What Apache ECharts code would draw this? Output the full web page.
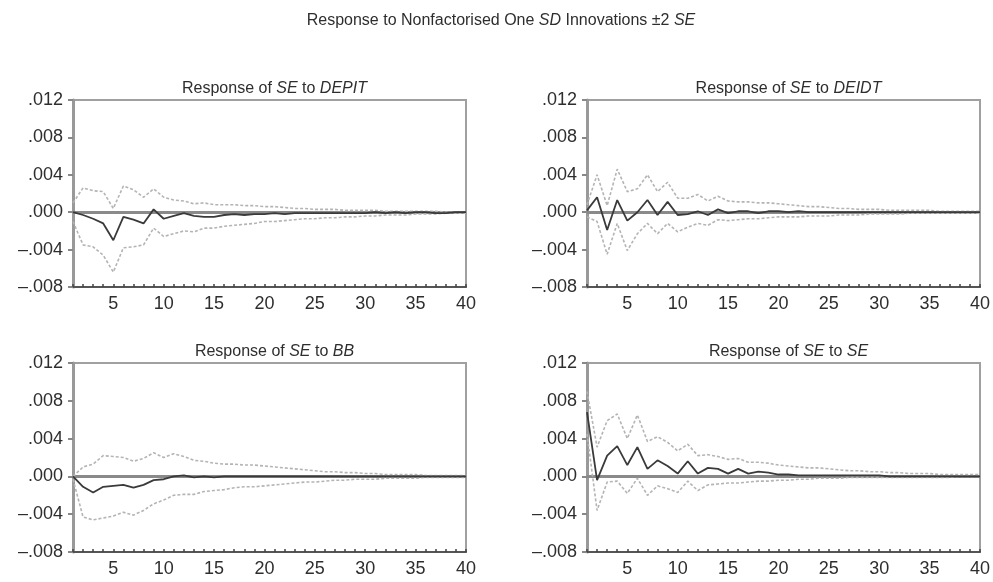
<!DOCTYPE html>
<html>
<head>
<meta charset="utf-8">
<script src="https://cdn.jsdelivr.net/npm/echarts@6/dist/echarts.min.js"></script>
<style>
  html, body { margin: 0; padding: 0; background: #fff; }
  #chart { width: 993px; height: 582px; }
</style>
</head>
<body>
<div id="chart"></div>
<script>
// Impulse-response horizon (periods 1..40)
const periods = Array.from({ length: 40 }, (_, i) => String(i + 1));

// Response of SE to DEPIT
const depitResp = [0.0000,-0.0003,-0.0007,-0.0012,-0.0030,-0.0005,-0.0008,-0.0012,0.0003,-0.0007,
  -0.0004,-0.0001,-0.0004,-0.0005,-0.0005,-0.0003,-0.0002,-0.0003,-0.0002,-0.0002,
  -0.0001,-0.0002,-0.0001,-0.0001,-0.0001,-0.0001,-0.0001,-0.0001,-0.0001,-0.0001,
  0.0000,-0.0001,0.0000,-0.0001,0.0000,0.0000,-0.0001,-0.0001,0.0000,0.0000];
const depitUpper = [0.0010,0.0026,0.0023,0.0022,0.0004,0.0028,0.0024,0.0016,0.0025,0.0016,
  0.0013,0.0012,0.0009,0.0010,0.0008,0.0008,0.0008,0.0007,0.0007,0.0006,
  0.0006,0.0005,0.0004,0.0004,0.0003,0.0003,0.0003,0.0002,0.0002,0.0002,
  0.0002,0.0001,0.0001,0.0001,0.0001,0.0001,0.0001,0.0000,0.0000,0.0000];
const depitLower = [-0.0010,-0.0035,-0.0037,-0.0046,-0.0064,-0.0038,-0.0037,-0.0035,-0.0017,-0.0026,
  -0.0023,-0.0020,-0.0021,-0.0017,-0.0017,-0.0015,-0.0014,-0.0013,-0.0012,-0.0010,
  -0.0010,-0.0009,-0.0008,-0.0007,-0.0007,-0.0006,-0.0006,-0.0005,-0.0005,-0.0004,
  -0.0004,-0.0003,-0.0003,-0.0003,-0.0002,-0.0002,-0.0002,-0.0001,-0.0001,-0.0001];

// Response of SE to DEIDT
const deidtResp = [0.0002,0.0016,-0.0019,0.0013,-0.0009,0.0000,0.0013,-0.0003,0.0011,-0.0003,
  -0.0002,0.0001,-0.0003,0.0003,-0.0001,0.0001,0.0001,-0.0001,0.0001,0.0001,
  0.0000,0.0001,0.0000,0.0000,0.0000,0.0000,0.0000,0.0000,0.0000,0.0000,
  0.0000,0.0000,0.0000,0.0000,0.0000,0.0000,0.0000,0.0000,0.0000,0.0000];
const deidtUpper = [0.0008,0.0040,0.0007,0.0046,0.0022,0.0025,0.0040,0.0022,0.0032,0.0015,
  0.0015,0.0019,0.0012,0.0017,0.0012,0.0011,0.0011,0.0010,0.0010,0.0009,
  0.0008,0.0007,0.0006,0.0006,0.0005,0.0004,0.0004,0.0003,0.0003,0.0003,
  0.0002,0.0002,0.0002,0.0002,0.0002,0.0001,0.0001,0.0001,0.0001,0.0001];
const deidtLower = [-0.0005,-0.0010,-0.0045,-0.0012,-0.0041,-0.0023,-0.0012,-0.0023,-0.0012,-0.0021,
  -0.0016,-0.0012,-0.0014,-0.0008,-0.0009,-0.0008,-0.0007,-0.0007,-0.0006,-0.0005,
  -0.0005,-0.0005,-0.0004,-0.0004,-0.0004,-0.0003,-0.0003,-0.0003,-0.0002,-0.0002,
  -0.0002,-0.0002,-0.0001,-0.0001,-0.0001,-0.0001,-0.0001,-0.0001,-0.0001,-0.0001];

// Response of SE to BB
const bbResp = [0.0000,-0.0011,-0.0017,-0.0011,-0.0010,-0.0009,-0.0012,-0.0009,-0.0004,-0.0003,
  0.0000,0.0001,-0.0001,0.0000,-0.0001,0.0000,0.0000,0.0000,0.0000,0.0000,
  0.0000,0.0000,0.0000,0.0000,0.0000,0.0000,0.0000,0.0000,0.0000,0.0000,
  0.0000,0.0000,0.0000,0.0000,0.0000,0.0000,0.0000,0.0000,0.0000,0.0000];
const bbUpper = [0.0000,0.0010,0.0013,0.0022,0.0021,0.0020,0.0016,0.0019,0.0025,0.0020,
  0.0024,0.0021,0.0017,0.0016,0.0014,0.0013,0.0013,0.0012,0.0012,0.0011,
  0.0010,0.0009,0.0008,0.0007,0.0006,0.0005,0.0005,0.0004,0.0004,0.0003,
  0.0003,0.0002,0.0002,0.0002,0.0002,0.0001,0.0001,0.0001,0.0001,0.0001];
const bbLower = [-0.0003,-0.0043,-0.0046,-0.0044,-0.0042,-0.0038,-0.0041,-0.0036,-0.0029,-0.0025,
  -0.0020,-0.0019,-0.0019,-0.0016,-0.0015,-0.0014,-0.0012,-0.0011,-0.0011,-0.0010,
  -0.0009,-0.0008,-0.0007,-0.0006,-0.0006,-0.0005,-0.0004,-0.0004,-0.0003,-0.0003,
  -0.0003,-0.0002,-0.0002,-0.0002,-0.0002,-0.0001,-0.0001,-0.0001,-0.0001,-0.0001];

// Response of SE to SE
const seResp = [0.0068,-0.0004,0.0022,0.0032,0.0012,0.0031,0.0008,0.0017,0.0011,0.0003,
  0.0016,0.0003,0.0009,0.0008,0.0003,0.0008,0.0003,0.0005,0.0004,0.0002,
  0.0002,0.0001,0.0001,0.0001,0.0001,0.0001,0.0001,0.0001,0.0001,0.0001,
  0.0000,0.0000,0.0000,0.0000,0.0000,0.0000,0.0000,0.0000,0.0000,0.0000];
const seUpper = [0.0090,0.0031,0.0059,0.0066,0.0040,0.0065,0.0037,0.0042,0.0036,0.0027,
  0.0034,0.0022,0.0023,0.0021,0.0018,0.0019,0.0015,0.0015,0.0014,0.0012,
  0.0011,0.0010,0.0009,0.0009,0.0008,0.0007,0.0006,0.0006,0.0005,0.0005,
  0.0004,0.0004,0.0003,0.0003,0.0003,0.0002,0.0002,0.0002,0.0002,0.0002];
const seLower = [0.0045,-0.0036,-0.0006,-0.0005,-0.0018,-0.0002,-0.0020,-0.0010,-0.0013,-0.0017,
  -0.0005,-0.0015,-0.0009,-0.0008,-0.0007,-0.0007,-0.0006,-0.0005,-0.0005,-0.0004,
  -0.0004,-0.0003,-0.0003,-0.0002,-0.0002,-0.0002,-0.0001,-0.0001,-0.0001,-0.0001,
  -0.0001,-0.0001,-0.0001,-0.0001,-0.0001,-0.0001,-0.0001,0.0000,0.0000,0.0000];

// Shock variable named in each panel heading
const panelShocks = ['DEPIT', 'DEIDT', 'BB', 'SE'];
const panels = [
  { resp: depitResp, upper: depitUpper, lower: depitLower },
  { resp: deidtResp, upper: deidtUpper, lower: deidtLower },
  { resp: bbResp, upper: bbUpper, lower: bbLower },
  { resp: seResp, upper: seUpper, lower: seLower }
];

const FONT = '"Liberation Sans", Arial, sans-serif';
const TEXT = '#2e2e2e';

const grids = [
  { left: 73, top: 100, width: 393, height: 187 },
  { left: 587, top: 100, width: 393, height: 187 },
  { left: 73, top: 363, width: 393, height: 189 },
  { left: 587, top: 363, width: 393, height: 189 }
];

const italicRich = {
  n: { fontFamily: FONT, fontSize: 16, color: TEXT, fontWeight: 'normal' },
  i: { fontFamily: FONT, fontSize: 16, color: TEXT, fontWeight: 'normal', fontStyle: 'italic' }
};

const titles = [{
  text: '{n|Response to Nonfactorised One }{i|SD}{n| Innovations ±2 }{i|SE}',
  left: 496, top: 8, textAlign: 'center',
  textStyle: { fontWeight: 'normal', rich: italicRich }
}];
panelShocks.forEach((shock, k) => {
  const g = grids[k];
  titles.push({
    text: '{n|Response of }{i|SE}{n| to }{i|' + shock + '}',
    left: g.left + g.width / 2,
    top: g.top - 24,
    textAlign: 'center',
    textStyle: { fontWeight: 'normal', rich: italicRich }
  });
});

function yLabel(v) {
  const m = Math.round(v * 1000);
  const s = '.' + String(Math.abs(m)).padStart(3, '0');
  return m < 0 ? '\u2013' + s : s;
}

const xAxes = grids.map((g, k) => ({
  type: 'category',
  gridIndex: k,
  data: periods,
  boundaryGap: false,
  axisLine: { onZero: false, lineStyle: { color: '#555', width: 2 } },
  axisTick: { show: true, interval: 0, inside: true, length: 3, lineStyle: { color: '#444', width: 1.5 } },
  axisLabel: {
    interval: (idx, val) => Number(val) % 5 === 0,
    color: TEXT, fontFamily: FONT, fontSize: 18, margin: 8
  },
  splitLine: { show: false }
}));

const yAxes = grids.map((g, k) => ({
  type: 'value',
  gridIndex: k,
  min: -0.008, max: 0.012, interval: 0.004,
  axisLine: { show: true, lineStyle: { color: '#999', width: 3 } },
  axisTick: { show: true, length: 5, lineStyle: { color: '#888', width: 2 } },
  axisLabel: { formatter: yLabel, color: TEXT, fontFamily: FONT, fontSize: 18, margin: 10 },
  splitLine: { show: false }
}));

const series = [];
panels.forEach((p, k) => {
  series.push({
    type: 'line', xAxisIndex: k, yAxisIndex: k, data: p.upper,
    symbol: 'none', silent: true,
    lineStyle: { color: '#b4b4b4', width: 1.6, type: [3, 2] }
  });
  series.push({
    type: 'line', xAxisIndex: k, yAxisIndex: k, data: p.lower,
    symbol: 'none', silent: true,
    lineStyle: { color: '#b4b4b4', width: 1.6, type: [3, 2] }
  });
  series.push({
    type: 'line', xAxisIndex: k, yAxisIndex: k, data: p.resp,
    symbol: 'none', silent: true, z: 5,
    lineStyle: { color: '#3a3a3a', width: 1.8 },
    markLine: {
      silent: true, symbol: 'none', label: { show: false },
      lineStyle: { color: '#8a8a8a', width: 3, type: 'solid' },
      data: [{ yAxis: 0 }],
      z: 1
    }
  });
});

const chart = echarts.init(document.getElementById('chart'), null, { renderer: 'canvas' });
chart.setOption({
  animation: false,
  backgroundColor: '#fff',
  title: titles,
  grid: grids.map(g => Object.assign({ show: true, borderColor: '#a0a0a0', borderWidth: 2, backgroundColor: 'transparent' }, g)),
  xAxis: xAxes,
  yAxis: yAxes,
  series: series
});
</script>
</body>
</html>
